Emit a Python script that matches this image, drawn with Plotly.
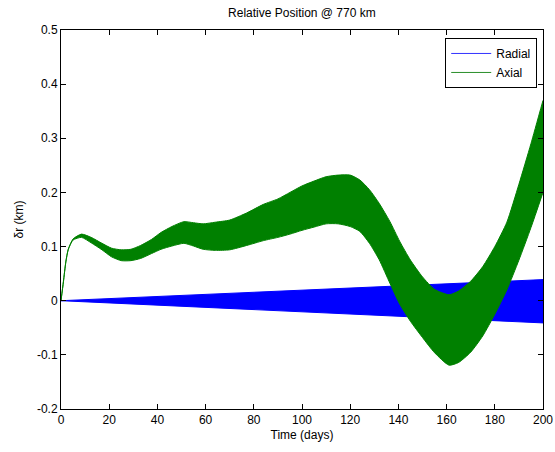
import plotly.graph_objects as go

# Envelope of the fast-oscillating Radial signal (km)
radial_days = [0, 50, 100, 150, 200]
radial_upper = [0.0, 0.010, 0.020, 0.030, 0.039]
radial_lower = [0.0, -0.010, -0.021, -0.031, -0.041]

# Envelope of the fast-oscillating Axial signal (km)
axial_days = [0, 1, 2, 3, 5, 8.5, 12.5, 17, 21, 25, 29, 33, 37.5, 41.5, 46, 51, 55, 59, 64,
              70, 77, 84, 90, 95, 100, 105, 110, 115, 120, 124, 128, 132, 136.5, 140.5,
              145, 150, 155, 161, 165, 170, 175, 180, 185, 190, 195, 200]
axial_upper = [0.0, 0.035, 0.072, 0.095, 0.114, 0.123, 0.117, 0.106, 0.097, 0.094, 0.095,
               0.102, 0.113, 0.126, 0.137, 0.146, 0.144, 0.142, 0.145, 0.149, 0.162, 0.178,
               0.188, 0.200, 0.212, 0.221, 0.229, 0.232, 0.232, 0.223, 0.205, 0.180, 0.146,
               0.110, 0.075, 0.044, 0.021, 0.011, 0.018, 0.036, 0.063, 0.100, 0.145, 0.215,
               0.290, 0.370]
axial_lower = [0.0, 0.035, 0.071, 0.094, 0.112, 0.117, 0.107, 0.094, 0.081, 0.074, 0.074,
               0.078, 0.087, 0.095, 0.101, 0.106, 0.101, 0.095, 0.093, 0.094, 0.102, 0.111,
               0.117, 0.123, 0.130, 0.136, 0.142, 0.142, 0.137, 0.128, 0.106, 0.076, 0.032,
               -0.006, -0.038, -0.068, -0.096, -0.119, -0.114, -0.095, -0.065, -0.025, 0.020,
               0.075, 0.135, 0.200]

series_names = ["Radial", "Axial"]
series_colors = ["#0000ff", "#008000"]
legend_colors = ["#3333ff", "#2a8f2a"]

x_ticks = list(range(0, 201, 20))
y_ticks = [-0.2, -0.1, 0, 0.1, 0.2, 0.3, 0.4, 0.5]
y_tick_labels = ["-0.2", "-0.1", "0", "0.1", "0.2", "0.3", "0.4", "0.5"]

fig = go.Figure()

bands = [
    (radial_days, radial_upper, radial_lower, "linear"),
    (axial_days, axial_upper, axial_lower, "spline"),
]
for (d, up, lo, shp), col in zip(bands, series_colors):
    fig.add_trace(go.Scatter(
        x=d, y=lo, mode="lines",
        line=dict(color=col, width=1, shape=shp, smoothing=0.6),
        showlegend=False, hoverinfo="skip",
    ))
    fig.add_trace(go.Scatter(
        x=d, y=up, mode="lines", fill="tonexty", fillcolor=col,
        line=dict(color=col, width=1, shape=shp, smoothing=0.6),
        showlegend=False, hoverinfo="skip",
    ))

for name, col in zip(series_names, legend_colors):
    fig.add_trace(go.Scatter(
        x=[None], y=[None], mode="lines", name=name,
        line=dict(color=col, width=1),
    ))

font_family = "Liberation Sans, Arial, sans-serif"
axis_common = dict(
    showgrid=False, zeroline=False, showline=True, linecolor="black", linewidth=1,
    mirror="ticks", ticks="inside", ticklen=5, tickcolor="black", automargin=False,
    tickfont=dict(family=font_family, size=12, color="black"),
)

fig.update_layout(
    width=555, height=452,
    margin=dict(l=61, r=12, t=30, b=43),
    paper_bgcolor="white", plot_bgcolor="white",
    font=dict(family=font_family, size=12, color="black"),
    title=dict(text="Relative Position @ 770 km", x=0.544, xanchor="center",
               y=0.972, yanchor="middle", font=dict(size=12)),
    xaxis=dict(range=[0, 200], tickvals=x_ticks,
               title=dict(text="Time (days)", standoff=4, font=dict(size=12)),
               **axis_common),
    yaxis=dict(range=[-0.2, 0.5], tickvals=y_ticks, ticktext=y_tick_labels,
               title=dict(text="δr (km)", standoff=10, font=dict(size=12)),
               **axis_common),
    legend=dict(x=0.988, y=0.979, xanchor="right", yanchor="top",
                bgcolor="white", bordercolor="black", borderwidth=1,
                font=dict(size=12), tracegroupgap=0, itemwidth=40,
                traceorder="normal"),
)

fig.write_html("out.html")
